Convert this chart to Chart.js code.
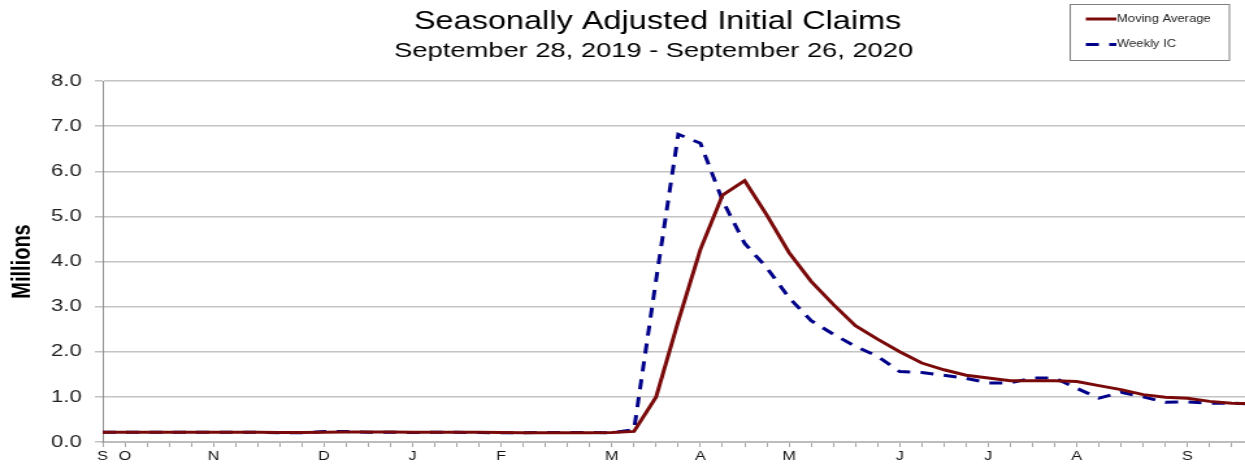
<!DOCTYPE html>
<html>
<head>
<meta charset="utf-8">
<title>Seasonally Adjusted Initial Claims</title>
<script src="https://cdn.jsdelivr.net/npm/chart.js@4.4.1/dist/chart.umd.min.js"></script>
<style>
  html, body { margin: 0; padding: 0; background: #fff; overflow: hidden; }
  /* the source image is stretched sideways, so the chart is drawn narrow and widened */
  #wrap { width: 958px; height: 464px; transform: scaleX(1.2996); transform-origin: 0 0; }
</style>
</head>
<body>
<div id="wrap"><canvas id="claims" width="958" height="464"></canvas></div>
<script>
const chartTitle = 'Seasonally Adjusted Initial Claims';
const chartSubtitle = 'September 28, 2019 - September 26, 2020';

// week ending dates
const weeks = [
  '2019-09-28', '2019-10-05', '2019-10-12', '2019-10-19', '2019-10-26', '2019-11-02', '2019-11-09',
  '2019-11-16', '2019-11-23', '2019-11-30', '2019-12-07', '2019-12-14', '2019-12-21', '2019-12-28',
  '2020-01-04', '2020-01-11', '2020-01-18', '2020-01-25', '2020-02-01', '2020-02-08', '2020-02-15',
  '2020-02-22', '2020-02-29', '2020-03-07', '2020-03-14', '2020-03-21', '2020-03-28', '2020-04-04',
  '2020-04-11', '2020-04-18', '2020-04-25', '2020-05-02', '2020-05-09', '2020-05-16', '2020-05-23',
  '2020-05-30', '2020-06-06', '2020-06-13', '2020-06-20', '2020-06-27', '2020-07-04', '2020-07-11',
  '2020-07-18', '2020-07-25', '2020-08-01', '2020-08-08', '2020-08-15', '2020-08-22', '2020-08-29',
  '2020-09-05', '2020-09-12', '2020-09-19', '2020-09-26'
];

// letter under the first week of each month
const monthTicks = [
  'S', 'O', '', '', '', 'N', '', '', '', '', 'D', '', '', '',
  'J', '', '', '', 'F', '', '', '', '', 'M', '', '', '', 'A',
  '', '', '', 'M', '', '', '', '', 'J', '', '', '', 'J', '',
  '', '', 'A', '', '', '', '', 'S', '', '', ''
];

// millions
const movingAvg = [
  0.215, 0.215, 0.215, 0.215, 0.215, 0.215, 0.215, 0.215, 0.21, 0.21, 0.215, 0.22, 0.22, 0.22,
  0.215, 0.215, 0.215, 0.215, 0.21, 0.205, 0.205, 0.205, 0.205, 0.21, 0.235, 1.0, 2.68, 4.27,
  5.47, 5.79, 5.03, 4.2, 3.56, 3.05, 2.58, 2.28, 2.0, 1.75, 1.6, 1.48, 1.42, 1.36,
  1.36, 1.36, 1.34, 1.25, 1.16, 1.05, 0.99, 0.97, 0.9, 0.86, 0.85
];

const weeklyIC = [
  0.215, 0.215, 0.215, 0.215, 0.215, 0.215, 0.215, 0.215, 0.205, 0.205, 0.23, 0.23, 0.215, 0.215,
  0.21, 0.215, 0.215, 0.21, 0.205, 0.205, 0.21, 0.21, 0.21, 0.205, 0.27, 3.6, 6.82, 6.62,
  5.35, 4.4, 3.86, 3.2, 2.69, 2.39, 2.12, 1.9, 1.56, 1.54, 1.48, 1.41, 1.31, 1.31,
  1.42, 1.42, 1.19, 0.97, 1.1, 1.0, 0.88, 0.89, 0.86, 0.86, 0.84
];

const yTicks = [0, 1, 2, 3, 4, 5, 6, 7, 8];

const FONT = '"Liberation Sans", Arial, sans-serif';

function toPoints(values) {
  return values.map((v, i) => ({ x: i, y: v }));
}

// title, subtitle and the boxed legend in the top right corner
const headerPlugin = {
  id: 'header',
  afterDraw(chart) {
    const ctx = chart.ctx;
    ctx.save();
    ctx.fillStyle = '#000';
    ctx.textAlign = 'center';
    ctx.textBaseline = 'alphabetic';
    ctx.font = '25px ' + FONT;
    ctx.fillText(chartTitle, 506, 28.5);
    ctx.font = '21px ' + FONT;
    ctx.fillText(chartSubtitle, 503, 57);

    ctx.strokeStyle = '#7f7f7f';
    ctx.lineWidth = 1;
    ctx.strokeRect(823.5, 4.5, 122.5, 56);

    chart.data.datasets.forEach((ds, k) => {
      const y = 19 + k * 25.5;
      ctx.beginPath();
      ctx.strokeStyle = ds.borderColor;
      ctx.lineWidth = ds.borderWidth;
      ctx.setLineDash(ds.borderDash || []);
      ctx.moveTo(835.5, y);
      ctx.lineTo(859, y);
      ctx.stroke();
      ctx.setLineDash([]);
      ctx.fillStyle = '#222';
      ctx.textAlign = 'left';
      ctx.textBaseline = 'middle';
      ctx.font = '10px ' + FONT;
      ctx.fillText(ds.label, 859.5, y);
    });
    ctx.restore();
  }
};

new Chart(document.getElementById('claims'), {
  type: 'line',
  data: {
    datasets: [
      {
        label: 'Moving Average',
        data: toPoints(movingAvg),
        borderColor: '#7a0a0a',
        borderWidth: 3,
        pointRadius: 0,
        tension: 0
      },
      {
        label: 'Weekly IC',
        data: toPoints(weeklyIC),
        borderColor: '#000088',
        borderWidth: 3,
        borderDash: [10, 8],
        pointRadius: 0,
        tension: 0
      }
    ]
  },
  options: {
    responsive: false,
    animation: false,
    layout: { padding: { top: 81, right: 0, bottom: 0, left: 0 } },
    plugins: {
      legend: { display: false },
      tooltip: { enabled: false },
      title: { display: false }
    },
    scales: {
      x: {
        type: 'linear',
        min: 0,
        max: 51.6,
        afterBuildTicks: scale => { scale.ticks = weeks.map((w, i) => ({ value: i })).filter(t => t.value <= 51); },
        afterFit: scale => { scale.height = 22; },
        ticks: {
          autoSkip: false,
          maxRotation: 0,
          padding: 2,
          color: '#111',
          font: { family: FONT, size: 12.5 },
          callback: v => monthTicks[v] || ''
        },
        grid: { drawOnChartArea: false, drawTicks: true, tickLength: 5, color: '#a6a6a6', lineWidth: 1 },
        border: { display: true, color: '#bdbdbd', width: 2 }
      },
      y: {
        min: 0,
        max: 8,
        afterBuildTicks: scale => { scale.ticks = yTicks.map(v => ({ value: v })); },
        afterFit: scale => { scale.width = 79; },
        ticks: {
          padding: 10,
          color: '#222',
          font: { family: FONT, size: 17 },
          callback: v => v.toFixed(1)
        },
        grid: { color: '#c3c3c3', lineWidth: 1.5, tickLength: 6 },
        border: { display: true, color: '#8c8c8c', width: 1 },
        title: {
          display: true,
          text: 'Millions',
          color: '#000',
          font: { family: FONT, size: 20, weight: 'bold' },
          padding: { top: 5, bottom: 0 }
        }
      }
    }
  },
  plugins: [headerPlugin]
});
</script>
</body>
</html>
